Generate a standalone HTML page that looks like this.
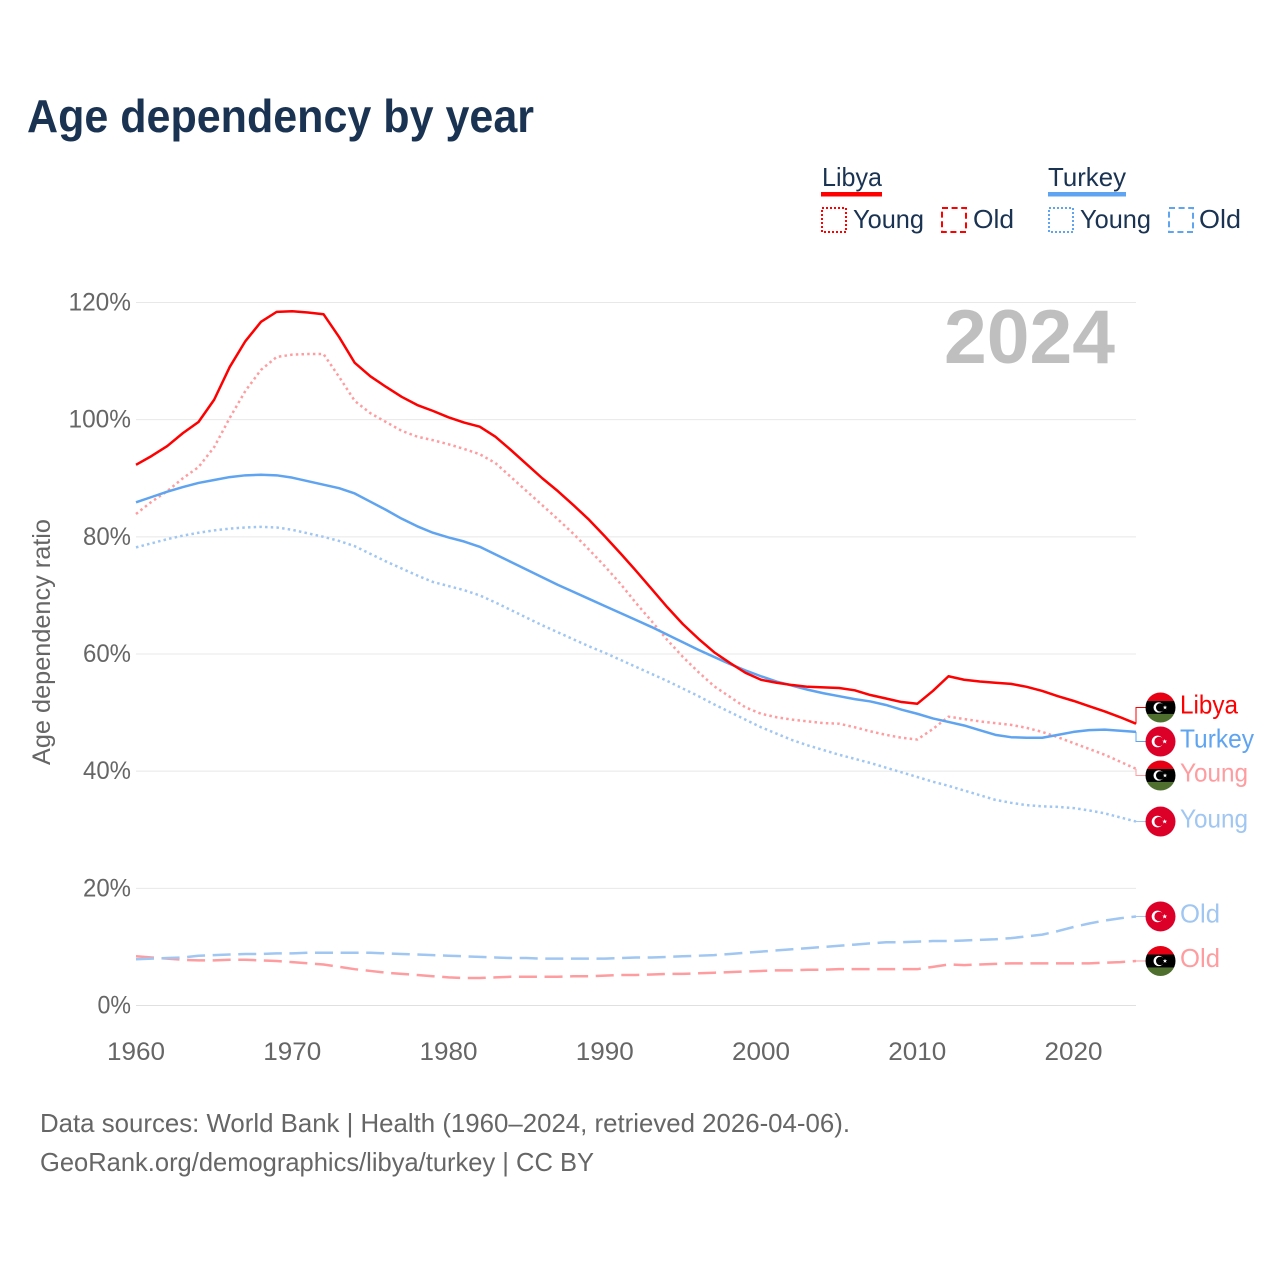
<!DOCTYPE html>
<html lang="en">
<head>
<meta charset="utf-8">
<title>Age dependency by year</title>
<style>
html,body{margin:0;padding:0;background:#fff;width:1280px;height:1280px;overflow:hidden}
svg{display:block}
text{font-family:"Liberation Sans",sans-serif}
</style>
</head>
<body>
<svg id="chart" xmlns="http://www.w3.org/2000/svg" width="1280" height="1280" viewBox="0 0 1280 1280">
  <defs>
    <clipPath id="flag-clip"><circle cx="0" cy="0" r="15"/></clipPath>
    <g id="flag-libya" clip-path="url(#flag-clip)">
      <rect x="-15" y="-15" width="30" height="8.5" fill="#e70013"/>
      <rect x="-15" y="-6.5" width="30" height="13" fill="#000"/>
      <rect x="-15" y="6.5" width="30" height="8.5" fill="#4f6f2f"/>
      <circle cx="-1.8" cy="0" r="5.2" fill="#fff"/>
      <circle cx="-0.3" cy="0" r="4.2" fill="#000"/>
      <polygon points="4.5,-2.2 5.1,-0.7 6.7,-0.7 5.4,0.3 5.9,1.9 4.5,0.9 3.1,1.9 3.6,0.3 2.3,-0.7 3.9,-0.7" fill="#fff"/>
    </g>
    <g id="flag-turkey" clip-path="url(#flag-clip)">
      <rect x="-15" y="-15" width="30" height="30" fill="#dc0029"/>
      <circle cx="-3" cy="0" r="5.8" fill="#fff"/>
      <circle cx="-1.4" cy="0" r="4.7" fill="#dc0029"/>
      <polygon points="4.2,-2.4 4.9,-0.8 6.6,-0.8 5.3,0.3 5.8,2 4.2,1 2.6,2 3.1,0.3 1.8,-0.8 3.5,-0.8" fill="#fff"/>
    </g>
  </defs>

  <text x="27" y="132" font-size="46" font-weight="700" fill="#1a3352" textLength="507" lengthAdjust="spacingAndGlyphs">Age dependency by year</text>

  <g font-size="26" fill="#1a3352">
    <text x="822" y="186" textLength="60" lengthAdjust="spacingAndGlyphs">Libya</text>
    <rect x="821" y="192" width="61" height="4.5" fill="#ff0000"/>
    <rect x="822" y="208" width="24" height="24" fill="none" stroke="#ff0000" stroke-width="2" stroke-dasharray="2 2"/>
    <text x="853" y="228" textLength="71" lengthAdjust="spacingAndGlyphs">Young</text>
    <rect x="942" y="208" width="24" height="24" fill="none" stroke="#ff0000" stroke-width="2" stroke-dasharray="6 3.6"/>
    <text x="973" y="228" textLength="41" lengthAdjust="spacingAndGlyphs">Old</text>
    <text x="1048" y="186" textLength="78" lengthAdjust="spacingAndGlyphs">Turkey</text>
    <rect x="1048" y="192" width="78" height="4.5" fill="#5fa4f0"/>
    <rect x="1049" y="208" width="24" height="24" fill="none" stroke="#5fa4f0" stroke-width="2" stroke-dasharray="2 2"/>
    <text x="1080" y="228" textLength="71" lengthAdjust="spacingAndGlyphs">Young</text>
    <rect x="1169" y="208" width="24" height="24" fill="none" stroke="#5fa4f0" stroke-width="2" stroke-dasharray="6 3.6"/>
    <text x="1199" y="228" textLength="42" lengthAdjust="spacingAndGlyphs">Old</text>
  </g>

  <g id="grid"></g>
  <g id="y-ticks"></g>
  <g id="x-ticks"></g>

  <text transform="translate(50,642) rotate(-90)" text-anchor="middle" font-size="25" fill="#666" textLength="246" lengthAdjust="spacingAndGlyphs">Age dependency ratio</text>

  <text x="944" y="363" font-size="76" font-weight="700" fill="#bfbfbf" textLength="171" lengthAdjust="spacingAndGlyphs">2024</text>

  <g id="series"></g>
  <g id="end-labels"></g>

  <g font-size="26" fill="#666">
    <text x="40" y="1132" textLength="810" lengthAdjust="spacingAndGlyphs">Data sources: World Bank | Health (1960–2024, retrieved 2026-04-06).</text>
    <text x="40" y="1171" textLength="554" lengthAdjust="spacingAndGlyphs">GeoRank.org/demographics/libya/turkey | CC BY</text>
  </g>
</svg>

<script>
const startYear = 1960;
const endYear = 2024;
const yTickValues = [0, 20, 40, 60, 80, 100, 120];
const xTickValues = [1960, 1970, 1980, 1990, 2000, 2010, 2020];

const libyaTotal = [92.3,93.8,95.5,97.7,99.6,103.4,109,113.4,116.7,118.4,118.5,118.3,118,114.1,109.7,107.4,105.6,103.9,102.5,101.5,100.4,99.5,98.8,97.1,94.8,92.4,90,87.8,85.4,82.9,80.1,77.2,74.2,71.1,68,65.1,62.6,60.3,58.5,56.8,55.6,55.1,54.7,54.4,54.3,54.2,53.8,53,52.4,51.8,51.5,53.7,56.2,55.6,55.3,55.1,54.9,54.4,53.7,52.8,52,51.1,50.2,49.2,48.1];
const libyaYoung = [83.9,86,87.8,90,91.9,95.3,100.3,104.9,108.5,110.7,111.1,111.2,111.2,107.3,103.2,101.1,99.6,98.1,97.1,96.5,95.8,95,94.1,92.6,90.2,87.8,85.4,83,80.5,77.8,75,72,68.7,65.6,62.4,59.5,56.9,54.5,52.7,50.9,49.8,49.2,48.8,48.5,48.2,48.1,47.5,46.8,46.2,45.7,45.4,47.2,49.3,48.9,48.5,48.2,47.9,47.4,46.7,45.8,44.8,43.8,42.8,41.6,40.4];
const libyaOld = [8.4,8.2,8,7.8,7.7,7.7,7.8,7.8,7.7,7.6,7.4,7.2,7,6.6,6.2,5.9,5.6,5.4,5.2,5,4.8,4.7,4.7,4.8,4.9,4.9,4.9,4.9,5,5,5.1,5.2,5.2,5.3,5.4,5.4,5.5,5.6,5.7,5.8,5.9,6,6,6.1,6.1,6.2,6.2,6.2,6.2,6.2,6.2,6.6,7,6.9,7,7.1,7.2,7.2,7.2,7.2,7.2,7.2,7.3,7.4,7.6];
const turkeyTotal = [85.9,86.8,87.7,88.5,89.2,89.7,90.2,90.5,90.6,90.5,90.1,89.5,88.9,88.3,87.4,86,84.6,83.1,81.8,80.7,79.9,79.2,78.3,77,75.7,74.4,73.1,71.8,70.6,69.4,68.2,67,65.8,64.6,63.3,62,60.7,59.5,58.3,57.2,56.2,55.3,54.6,53.9,53.3,52.8,52.3,51.9,51.3,50.5,49.8,49,48.4,47.8,47,46.2,45.8,45.7,45.7,46.2,46.7,47,47.1,46.9,46.7];
const turkeyYoung = [78.2,78.9,79.6,80.2,80.7,81.1,81.4,81.6,81.7,81.6,81.2,80.6,80,79.3,78.4,77.1,75.8,74.6,73.4,72.3,71.6,70.9,70,68.8,67.5,66.2,64.9,63.7,62.5,61.3,60.2,59,57.8,56.6,55.4,54.1,52.8,51.4,50.1,48.8,47.5,46.4,45.3,44.4,43.6,42.8,42.1,41.4,40.6,39.8,39,38.2,37.5,36.7,35.9,35.1,34.6,34.2,34,33.9,33.7,33.3,32.8,32.1,31.4];
const turkeyOld = [7.9,8,8.1,8.2,8.5,8.6,8.7,8.8,8.8,8.9,8.9,9,9,9,9,9,8.9,8.8,8.7,8.6,8.5,8.4,8.3,8.2,8.1,8.1,8,8,8,8,8,8.1,8.2,8.2,8.3,8.4,8.5,8.6,8.8,9,9.2,9.4,9.6,9.8,10,10.2,10.4,10.6,10.8,10.8,10.9,11,11,11.1,11.2,11.3,11.5,11.8,12.1,12.7,13.4,14,14.5,14.9,15.2];

const seriesList = [
  {key:'libya-old', values:libyaOld, color:'#ff9c9f', dash:'18 7.6', label:'Old', flag:'libya', textWidth:40},
  {key:'turkey-old', values:turkeyOld, color:'#a0c6f2', dash:'18 7.6', label:'Old', flag:'turkey', textWidth:40},
  {key:'turkey-young', values:turkeyYoung, color:'#a0c6f2', dash:'2.5 3.2', label:'Young', flag:'turkey', textWidth:68},
  {key:'libya-young', values:libyaYoung, color:'#ff9c9f', dash:'2.5 3.2', label:'Young', flag:'libya', textWidth:68},
  {key:'turkey-total', values:turkeyTotal, color:'#5fa4f0', dash:'', label:'Turkey', flag:'turkey', textWidth:74},
  {key:'libya-total', values:libyaTotal, color:'#ff0000', dash:'', label:'Libya', flag:'libya', textWidth:58}
];

const NS = 'http://www.w3.org/2000/svg';
function xScale(year){ return 136 + (year - startYear) * (1000 / (endYear - startYear)); }
function yScale(v){ return 1005.5 - v * (703 / 120); }
function make(tag, parent){ const el = document.createElementNS(NS, tag); parent.appendChild(el); return el; }

const gridG = document.getElementById('grid');
const yTicksG = document.getElementById('y-ticks');
const xTicksG = document.getElementById('x-ticks');

yTickValues.forEach(function(v){
  const line = make('line', gridG);
  
  
  line.setAttribute('x1', xScale(startYear));
  line.setAttribute('x2', xScale(endYear));
  line.setAttribute('y1', yScale(v));
  line.setAttribute('y2', yScale(v));
  line.setAttribute('stroke', v === 0 ? '#e0e0e0' : '#e8e8e8');
  line.setAttribute('stroke-width', '1');
  const t = make('text', yTicksG);
  
  
  const label = v + '%';
  t.textContent = label;
  t.setAttribute('x', 131);
  t.setAttribute('y', yScale(v) + 8);
  t.setAttribute('text-anchor', 'end');
  t.setAttribute('font-size', '25');
  t.setAttribute('fill', '#666');
  t.setAttribute('textLength', (label.length - 1) * 14.5 + 19);
  t.setAttribute('lengthAdjust', 'spacingAndGlyphs');
});

xTickValues.forEach(function(y){
  const t = make('text', xTicksG);
  
  
  t.textContent = String(y);
  t.setAttribute('x', xScale(y));
  t.setAttribute('y', 1060);
  t.setAttribute('text-anchor', 'middle');
  t.setAttribute('font-size', '25');
  t.setAttribute('fill', '#666');
  t.setAttribute('textLength', 58);
  t.setAttribute('lengthAdjust', 'spacingAndGlyphs');
});

const seriesG = document.getElementById('series');
seriesList.forEach(function(s){
  const p = make('path', seriesG);
  
  
  p.setAttribute('d', s.values.map(function(v, i){
    return (i ? 'L' : 'M') + xScale(startYear + i).toFixed(2) + ' ' + yScale(v).toFixed(2);
  }).join(' '));
  p.setAttribute('fill', 'none');
  p.setAttribute('stroke', s.color);
  p.setAttribute('stroke-width', '2.5');
  p.setAttribute('stroke-linejoin', 'round');
  if (s.dash) p.setAttribute('stroke-dasharray', s.dash);
});

/* Place end labels: overlapping labels are merged into evenly spaced, centred clusters */
const labelGap = 34;
const ordered = seriesList.map(function(s){
  return {s:s, endY:yScale(s.values[s.values.length - 1])};
}).sort(function(a, b){ return a.endY - b.endY; });
let clusters = ordered.map(function(o){ return {items:[o], center:o.endY}; });
let merged = true;
while (merged) {
  merged = false;
  for (let i = 0; i < clusters.length - 1; i++) {
    const a = clusters[i], b = clusters[i + 1];
    const aBottom = a.center + (a.items.length - 1) * labelGap / 2;
    const bTop = b.center - (b.items.length - 1) * labelGap / 2;
    if (bTop - aBottom < labelGap) {
      const items = a.items.concat(b.items);
      const center = items.reduce(function(t, o){ return t + o.endY; }, 0) / items.length;
      clusters.splice(i, 2, {items:items, center:center});
      merged = true;
      break;
    }
  }
}

const labelsG = document.getElementById('end-labels');
clusters.forEach(function(c){
  c.items.forEach(function(o, idx){
    const ly = c.center + (idx - (c.items.length - 1) / 2) * labelGap;
    const s = o.s;
    const lead = make('path', labelsG);
    
    
    lead.setAttribute('d', 'M' + xScale(endYear) + ' ' + o.endY.toFixed(2) + ' V' + ly.toFixed(2) + ' H1146');
    lead.setAttribute('fill', 'none');
    lead.setAttribute('stroke', s.color);
    lead.setAttribute('stroke-width', '1');
    const flag = make('use', labelsG);
    
    
    flag.setAttribute('href', '#flag-' + s.flag);
    flag.setAttribute('transform', 'translate(1160.5,' + ly.toFixed(2) + ')');
    const t = make('text', labelsG);
    
    
    t.textContent = s.label;
    t.setAttribute('x', 1180);
    t.setAttribute('y', ly + 6);
    t.setAttribute('font-size', '26');
    t.setAttribute('fill', s.color);
    t.setAttribute('textLength', s.textWidth);
    t.setAttribute('lengthAdjust', 'spacingAndGlyphs');
  });
});
</script>
</body>
</html>
